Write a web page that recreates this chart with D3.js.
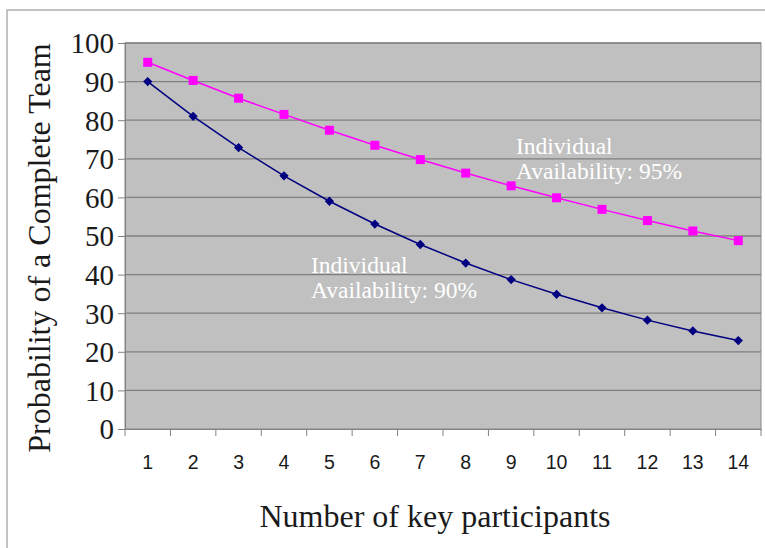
<!DOCTYPE html>
<html><head><meta charset="utf-8">
<script src="https://cdn.jsdelivr.net/npm/d3@7"></script>
<style>body{margin:0;background:#fff}svg{display:block}</style>
</head><body>
<svg id="c" width="765" height="548"></svg>
<script>
const participants = [1,2,3,4,5,6,7,8,9,10,11,12,13,14];
const avail95 = [95,90.3,85.7,81.5,77.4,73.5,69.8,66.3,63,59.9,56.9,54,51.3,48.8];
const avail90 = [90,81,72.9,65.6,59,53.1,47.8,43,38.7,34.9,31.4,28.2,25.4,22.9];
const yTicks = [0,10,20,30,40,50,60,70,80,90,100];

const svg = d3.select('#c');
const L=125, R=761, T=43, B=429;
const x = d3.scaleBand().domain(participants).range([L,R]);
const y = d3.scaleLinear().domain([0,100]).range([B,T]);

svg.append('path').attr('d','M7,548V10H765').attr('fill','none').attr('stroke','#b0b0b0').attr('stroke-width',1.5);

svg.append('rect').attr('x',L).attr('y',T).attr('width',R-L).attr('height',B-T)
  .attr('fill','#c0c0c0').attr('stroke','#8a8a8a').attr('stroke-width',1);

svg.append('g').selectAll('line').data(yTicks.filter(d=>d>0)).join('line')
  .attr('x1',L).attr('x2',R).attr('y1',d=>y(d)).attr('y2',d=>y(d))
  .attr('stroke','#808080').attr('stroke-width',1.3);

const ya = svg.append('g').attr('transform',`translate(${L},0)`)
  .call(d3.axisLeft(y).tickValues(yTicks).tickSize(7).tickPadding(4));
ya.select('.domain').attr('stroke','#808080');
ya.selectAll('.tick line').attr('stroke','#808080');
ya.selectAll('text').attr('font-family','Liberation Serif').attr('font-size',29).attr('fill','#1a1a1a').attr('dy','0.34em');

const xa = svg.append('g').attr('transform',`translate(0,${B})`)
  .call(d3.axisBottom(x).tickSize(0).tickPadding(26));
xa.select('.domain').attr('stroke','#808080');
xa.selectAll('text').attr('font-family','Liberation Sans').attr('font-size',19.5).attr('fill','#1a1a1a');
const bounds = participants.map(d=>x(d)).concat([R]);
svg.append('g').selectAll('line').data(bounds).join('line')
  .attr('x1',d=>d).attr('x2',d=>d).attr('y1',B).attr('y2',B+7).attr('stroke','#808080');

const line = d3.line().x((d,i)=>x(participants[i])+x.bandwidth()/2).y(d=>y(d));
svg.append('path').datum(avail95).attr('d',line).attr('fill','none').attr('stroke','#ff00ff').attr('stroke-width',1.5);
svg.append('path').datum(avail90).attr('d',line).attr('fill','none').attr('stroke','#000080').attr('stroke-width',1.5);

svg.append('g').selectAll('rect').data(avail95).join('rect')
  .attr('x',(d,i)=>x(participants[i])+x.bandwidth()/2-4.5).attr('y',d=>y(d)-4.5)
  .attr('width',9).attr('height',9).attr('fill','#ff00ff');
svg.append('g').selectAll('path').data(avail90).join('path')
  .attr('d',d3.symbol().type(d3.symbolDiamond2).size(55))
  .attr('transform',(d,i)=>`translate(${x(participants[i])+x.bandwidth()/2},${y(d)})`)
  .attr('fill','#000080');

const ann = svg.append('g').attr('font-family','Liberation Serif').attr('font-size',23.5).attr('fill','#ffffff');
ann.append('text').attr('x',516).attr('y',154).text('Individual');
ann.append('text').attr('x',516).attr('y',179).text('Availability: 95%');
ann.append('text').attr('x',311).attr('y',273).text('Individual');
ann.append('text').attr('x',311).attr('y',298).text('Availability: 90%');

svg.append('text').attr('transform','translate(50,248) rotate(-90)').attr('text-anchor','middle')
  .attr('font-family','Liberation Serif').attr('font-size',32).attr('fill','#1a1a1a')
  .text('Probability of a Complete Team');
svg.append('text').attr('x',435).attr('y',527).attr('text-anchor','middle')
  .attr('font-family','Liberation Serif').attr('font-size',32).attr('fill','#1a1a1a')
  .text('Number of key participants');
</script>
</body></html>
